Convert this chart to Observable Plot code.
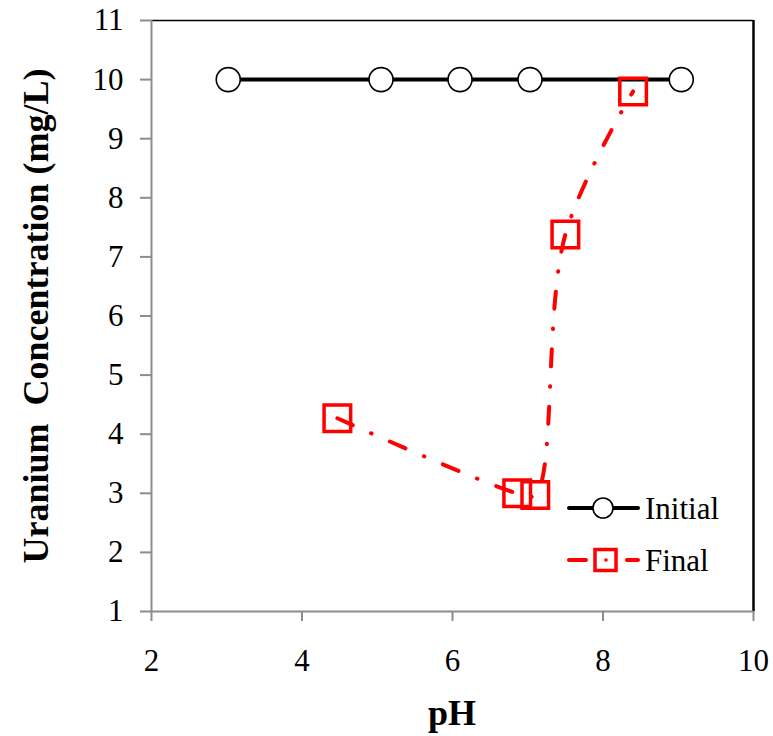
<!DOCTYPE html>
<html>
<head>
<meta charset="utf-8">
<script src="https://cdn.jsdelivr.net/npm/d3@7"></script>
<script src="https://cdn.jsdelivr.net/npm/@observablehq/plot@0.6"></script>
<style>
  html, body { margin: 0; padding: 0; background: #fff; }
  #wrap { position: relative; width: 773px; height: 736px; font-family: "Liberation Serif", "Times New Roman", serif; }
  #legend { position: absolute; left: 560px; top: 488px; }
</style>
</head>
<body>
<div id="wrap"></div>
<script>
const initialPH = [3.02, 5.05, 6.1, 7.03, 9.04];
const initialU = [10, 10, 10, 10, 10];
const finalPH = [4.47, 6.86, 7.1, 7.5, 8.4];
const finalU = [4.27, 3.0, 2.97, 7.38, 9.8];
const xTicks = [2, 4, 6, 8, 10];
const yTicks = [1, 2, 3, 4, 5, 6, 7, 8, 9, 10, 11];
const seriesNames = ["Initial", "Final"];

const initial = initialPH.map((x, i) => ({x, y: initialU[i]}));
const final = finalPH.map((x, i) => ({x, y: finalU[i]}));

const font = "'Liberation Serif', 'Times New Roman', serif";
const fmt = d3.format("d");
const chart = Plot.plot({
  width: 773,
  height: 736,
  marginLeft: 151,
  marginRight: 20,
  marginTop: 20,
  marginBottom: 125,
  style: {fontFamily: font, fontSize: "31px", color: "#000", background: "#fff"},
  x: {type: "linear", domain: [2, 10], label: null},
  y: {type: "linear", domain: [1, 11], label: null},
  marks: [
    // frame: top & right black
    Plot.ruleY([11], {stroke: "#000", strokeWidth: 1.5}),
    Plot.ruleX([10], {stroke: "#000", strokeWidth: 2.5}),
    // left & bottom gray axis lines
    Plot.ruleX([2], {stroke: "#8c8c8c", strokeWidth: 2}),
    Plot.ruleY([1], {stroke: "#8c8c8c", strokeWidth: 2}),
    Plot.axisY(yTicks, {tickSize: 11, stroke: "#8c8c8c", strokeWidth: 2, tickPadding: 17, tickFormat: fmt, fill: "#000", fontSize: 31, fontFamily: font, label: null}),
    Plot.axisX(xTicks, {tickSize: 10, stroke: "#8c8c8c", strokeWidth: 2, tickPadding: 27, tickFormat: fmt, fill: "#000", fontSize: 31, fontFamily: font, label: null}),
    // Initial
    Plot.line(initial, {x: "x", y: "y", stroke: "#000", strokeWidth: 4}),
    Plot.dot(initial, {x: "x", y: "y", r: 12, stroke: "#000", strokeWidth: 1.6, fill: "#fff"}),
    // Final
    Plot.line(final, {x: "x", y: "y", stroke: "#ff0000", strokeWidth: 4, curve: "catmull-rom", strokeDasharray: "17,20,0.5,20", strokeLinecap: "round"}),
    Plot.dot(final, {x: "x", y: "y", symbol: "square", r: 15, stroke: "#ff0000", strokeWidth: 3.5, fill: "none"})
  ]
});
document.getElementById("wrap").appendChild(chart);

// axis titles
const svg = d3.select(chart);
svg.append("text")
  .attr("transform", "translate(48,316) rotate(-90)")
  .attr("text-anchor", "middle")
  .attr("font-family", font).attr("font-size", 36).attr("font-weight", "bold")
  .attr("fill", "#000")
  .attr("xml:space", "preserve")
  .style("white-space", "pre")
  .text("Uranium  Concentration (mg/L)");
svg.append("text")
  .attr("x", 452).attr("y", 725)
  .attr("text-anchor", "middle")
  .attr("font-family", font).attr("font-size", 36).attr("font-weight", "bold")
  .attr("fill", "#000")
  .text("pH");

// legend
const leg = d3.select("#wrap").append("svg").attr("id", "legend").attr("width", 190).attr("height", 100);
seriesNames.forEach((name, i) => {
  const cy = 20 + i * 52;
  const g = leg.append("g");
  if (i === 0) {
    g.append("line").attr("x1", 9).attr("x2", 78).attr("y1", cy).attr("y2", cy).attr("stroke", "#000").attr("stroke-width", 4).attr("stroke-linecap", "round");
    g.append("circle").attr("cx", 43).attr("cy", cy).attr("r", 10).attr("fill", "#fff").attr("stroke", "#000").attr("stroke-width", 1.6);
  } else {
    g.append("line").attr("x1", 9).attr("x2", 26).attr("y1", cy).attr("y2", cy).attr("stroke", "#ff0000").attr("stroke-width", 4).attr("stroke-linecap", "round");
    g.append("line").attr("x1", 67).attr("x2", 78).attr("y1", cy).attr("y2", cy).attr("stroke", "#ff0000").attr("stroke-width", 4).attr("stroke-linecap", "round");
    g.append("rect").attr("x", 35).attr("y", cy - 10.5).attr("width", 21).attr("height", 21).attr("fill", "none").attr("stroke", "#ff0000").attr("stroke-width", 3.5);
    g.append("circle").attr("cx", 46).attr("cy", cy).attr("r", 1.8).attr("fill", "#ff0000");
  }
  g.append("text").attr("x", 85).attr("y", cy + 11).attr("font-family", font).attr("font-size", 31).attr("fill", "#000").text(name);
});
</script>
</body>
</html>
